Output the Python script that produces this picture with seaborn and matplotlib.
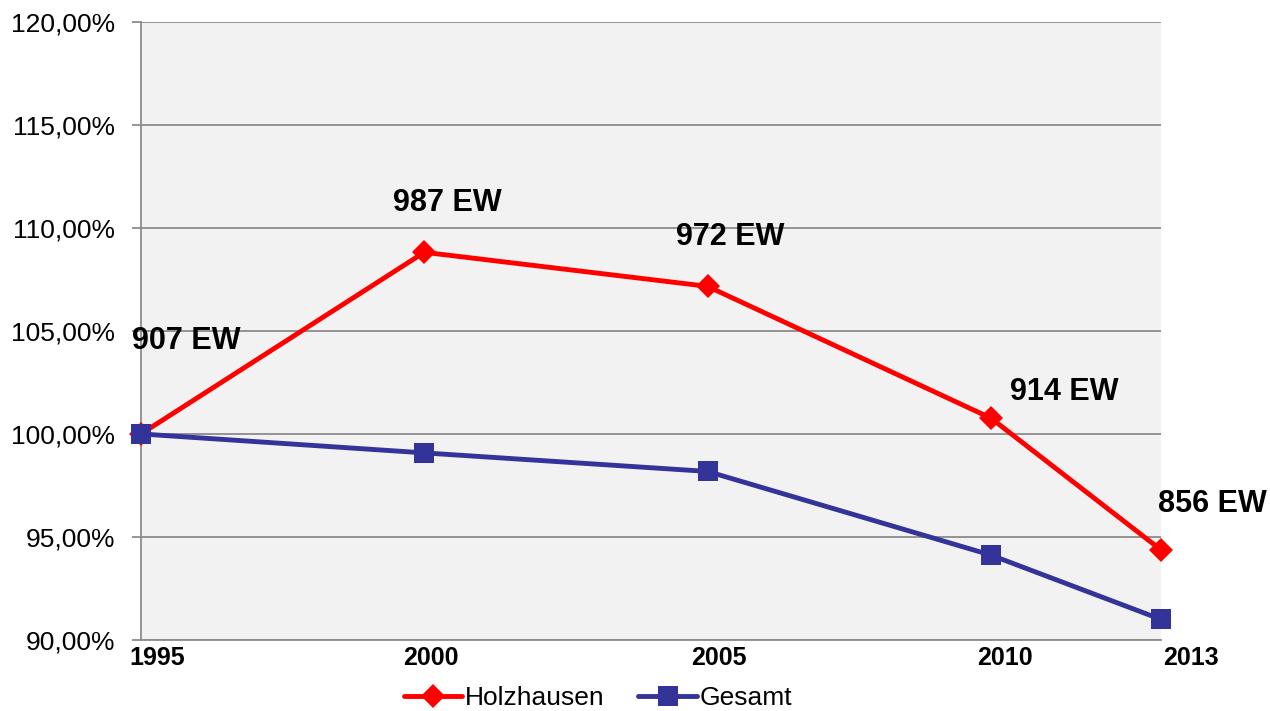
import pandas as pd
import seaborn as sns
import matplotlib.pyplot as plt
from matplotlib.ticker import FuncFormatter, MultipleLocator
import matplotlib.transforms as mtransforms

# data (relative to 1995 = 100 %)
years = [1995, 2000, 2005, 2010, 2013]
einwohner = [907, 987, 972, 914, 856]
holzhausen = [e / einwohner[0] * 100 for e in einwohner]
gesamt = [100.0, 99.08, 98.18, 94.12, 91.0]
labels = [f'{e} EW' for e in einwohner]

# label offsets in pixels from the point
label_offsets = [(45, 93), (23, 49), (23, 49), (73, 26), (52, 46)]
xtick_shift = [16, 7, 11, 14, 30]

sns.set_theme(style='white')
plt.rcParams['font.family'] = ['Liberation Sans', 'DejaVu Sans']

df = pd.DataFrame({'Jahr': years, 'Holzhausen': holzhausen, 'Gesamt': gesamt})

fig = plt.figure(figsize=(12.7, 7.11), dpi=100)
ax = fig.add_axes([0.111, 0.1, 0.803, 0.869])
ax.set_facecolor('#f2f2f2')

sns.lineplot(data=df, x='Jahr', y='Holzhausen', color='#ff0000', linewidth=3.5,
             marker='D', markersize=12, markeredgewidth=0, label='Holzhausen', ax=ax, zorder=3)
sns.lineplot(data=df, x='Jahr', y='Gesamt', color='#333399', linewidth=3.5,
             marker='s', markersize=14, markeredgewidth=0, label='Gesamt', ax=ax, zorder=4)
for ln in ax.lines:
    ln.set_clip_on(False)

for x, y, txt, (dx, dy) in zip(years, holzhausen, labels, label_offsets):
    ax.annotate(txt, (x, y), xytext=(dx, dy), textcoords='offset pixels',
                ha='center', va='center', fontsize=22, fontweight='bold', color='black')

ax.set_xlim(1995, 2013)
ax.set_ylim(90, 120)
ax.yaxis.set_major_locator(MultipleLocator(5))
ax.yaxis.set_major_formatter(FuncFormatter(lambda v, p: f'{v:.2f}%'.replace('.', ',')))
ax.set_xticks(years)
ax.set_xticklabels([])

# year labels, shifted like in the original
xtrans = mtransforms.blended_transform_factory(ax.transData, ax.transAxes)
for yr, s in zip(years, xtick_shift):
    off = mtransforms.ScaledTranslation(s / 100, -18 / 100, fig.dpi_scale_trans)
    ax.text(yr, 0, str(yr), transform=xtrans + off, ha='center', va='center',
            fontsize=18, fontweight='bold', color='black')

ax.grid(axis='y', color='#8c8c8c', linewidth=1.3)
ax.set_axisbelow(True)
for side in ['top', 'right']:
    ax.spines[side].set_visible(False)
for side in ['left', 'bottom']:
    ax.spines[side].set_color('#8c8c8c')
    ax.spines[side].set_linewidth(1.3)

ax.tick_params(axis='y', which='major', length=6.5, width=1.3, color='#8c8c8c',
               labelsize=19, labelcolor='black', pad=12, left=True)
ax.tick_params(axis='x', length=0)
ax.set_xlabel('')
ax.set_ylabel('')

ax.legend(loc='center', bbox_to_anchor=(0.448, -0.094), ncol=2, frameon=False,
          fontsize=19, handlelength=2.2, handletextpad=0.1, columnspacing=1.3)
for t in ax.get_legend().get_texts():
    t.set_color('black')

fig.savefig('out.png', dpi=100)
